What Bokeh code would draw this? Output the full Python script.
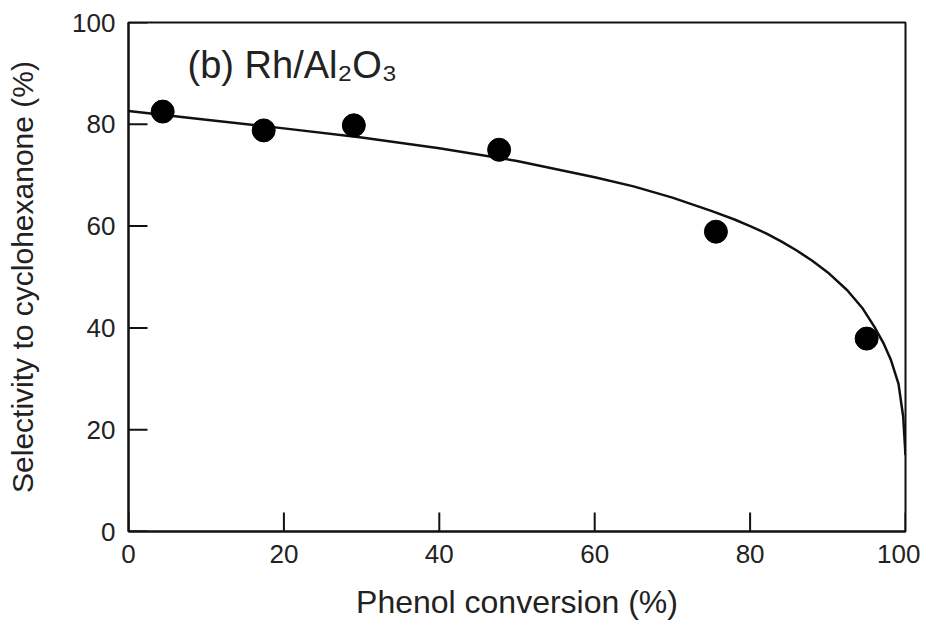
import math
from bokeh.plotting import figure
from bokeh.models import Label, Range1d, FixedTicker
from bokeh.embed import file_html
from bokeh.resources import INLINE

# measured points
conversion = [4.4, 17.4, 29.0, 47.7, 75.6, 95.0]
selectivity = [82.5, 78.8, 79.8, 75.0, 58.9, 37.9]

# fitted curve
curve_x = [0, 10, 20, 30, 40, 50, 60, 65, 70, 75, 78, 80, 82, 84, 86, 88, 90, 92.5, 94.5,
           96, 97.2, 98.1, 99.1, 99.7, 100]
curve_y = [82.6, 80.9, 79.2, 77.4, 75.3, 72.8, 69.6, 67.8, 65.6, 63.0, 61.3, 60.0, 58.6, 57.0,
           55.2, 53.2, 50.9, 47.4, 43.8, 40.2, 36.9, 33.8, 29.0, 22.6, 15.0]

x_ticks = [0, 20, 40, 60, 80, 100]
y_ticks = [0, 20, 40, 60, 80, 100]

FONT = "Liberation Sans"
INK = "#111111"

p = figure(width=920, height=623, output_backend="svg", toolbar_location=None,
           x_range=Range1d(0, 100), y_range=Range1d(0, 100),
           min_border_left=128, min_border_right=15, min_border_top=22, min_border_bottom=92)

p.grid.visible = False
p.outline_line_color = INK
p.outline_line_width = 2
p.background_fill_color = "white"
p.border_fill_color = "white"

for ax, ticks in ((p.xaxis[0], x_ticks), (p.yaxis[0], y_ticks)):
    ax.ticker = FixedTicker(ticks=ticks)
    ax.major_tick_in = 0
    ax.major_tick_out = 0
    ax.minor_tick_in = 0
    ax.minor_tick_out = 0
    ax.axis_line_width = 2
    ax.axis_line_color = INK
    ax.major_label_text_font = FONT
    ax.major_label_text_font_size = "26px"
    ax.major_label_text_color = "#222222"
    ax.axis_label_text_font = FONT
    ax.axis_label_text_font_style = "normal"
    ax.axis_label_text_color = "#222222"

p.xaxis.axis_label = "Phenol conversion (%)"
p.yaxis.axis_label = "Selectivity to cyclohexanone (%)"
p.xaxis.axis_label_text_font_size = "32px"
p.yaxis.axis_label_text_font_size = "30px"
p.xaxis.major_label_standoff = 13
p.yaxis.major_label_standoff = 13
p.xaxis.axis_label_standoff = 18
p.yaxis.axis_label_standoff = 30

# inward tick marks (clipped to the frame so only the inner half shows)
p.scatter(x_ticks, [0] * len(x_ticks), marker="dash", angle=math.pi / 2, size=38,
          line_color=INK, line_width=2)
p.scatter([0] * len(y_ticks), y_ticks, marker="dash", size=38,
          line_color=INK, line_width=2)

p.line(curve_x, curve_y, line_color=INK, line_width=2.5)
p.scatter(conversion, selectivity, size=23, fill_color="black", line_color="black")

p.add_layout(Label(x=7.6, y=91.7, text="(b) Rh/Al\u2082O\u2083", text_font=FONT,
                   text_font_size="38px", text_color="#222222", text_baseline="alphabetic"))

open("out.html", "w").write(file_html(p, INLINE))
